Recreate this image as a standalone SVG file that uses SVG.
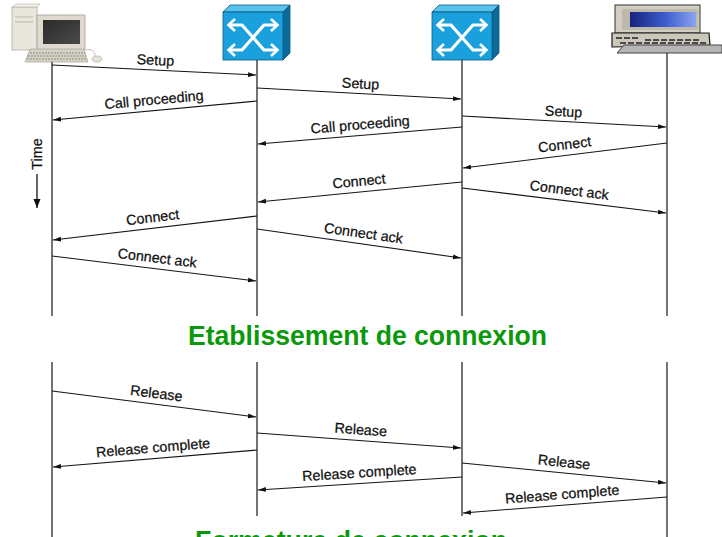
<svg xmlns="http://www.w3.org/2000/svg" xmlns:xlink="http://www.w3.org/1999/xlink" width="722" height="537" viewBox="0 0 722 537">
  <style>
    .life { stroke: #2a2a2a; stroke-width: 1.3; fill: none; }
    .msg { stroke: #151515; stroke-width: 1.1; fill: none; marker-end: url(#head); }
    .lbl { font-family: "Liberation Sans", Arial, sans-serif; font-size: 14.3px; fill: #111; stroke: #111; stroke-width: 0.25; text-anchor: middle; }
    .title { font-family: "Liberation Sans", Arial, sans-serif; font-size: 27px; font-weight: bold; fill: #0b990b; }
  </style>
  <defs>
    <marker id="head" markerWidth="9" markerHeight="6" refX="8" refY="3" orient="auto" markerUnits="userSpaceOnUse">
      <path d="M0,0.6 L8,3 L0,5.4 Z" fill="#111"/>
    </marker>
    <marker id="timehead" markerWidth="8" markerHeight="10" refX="4" refY="9" orient="0" markerUnits="userSpaceOnUse">
      <path d="M0.5,0 L4,9 L7.5,0 Z" fill="#111"/>
    </marker>
    <linearGradient id="lcd" x1="0" y1="0" x2="1" y2="0">
      <stop offset="0" stop-color="#16237e"/>
      <stop offset="0.55" stop-color="#3e5fd0"/>
      <stop offset="1" stop-color="#8aa4f0"/>
    </linearGradient>
    <linearGradient id="crt" x1="0" y1="0" x2="1" y2="1">
      <stop offset="0" stop-color="#2b2b2b"/>
      <stop offset="1" stop-color="#4a4a4a"/>
    </linearGradient>
    <!-- ATM switch cube with crossing arrows -->
    <g id="atm-switch">
      <polygon points="0,7 7,0 67,0 60,7" fill="#57c2ec" stroke="#0a5a80" stroke-width="0.8"/>
      <polygon points="60,7 67,0 67,48 60,55" fill="#0a6b9a" stroke="#0a5a80" stroke-width="0.8"/>
      <rect x="0" y="7" width="60" height="48" fill="#1aa0dc" stroke="#0a5a80" stroke-width="0.8"/>
      <path d="M6,20 H19 L41,45 H54 M54,20 H41 L19,45 H6" fill="none" stroke="#ffffff" stroke-width="3.2" stroke-linejoin="round"/>
      <path d="M12,14 L5.5,20 L12,26 M48,14 L54.5,20 L48,26 M12,39 L5.5,45 L12,51 M48,39 L54.5,45 L48,51" fill="none" stroke="#ffffff" stroke-width="2.6" stroke-linejoin="miter"/>
    </g>
  </defs>

  <rect x="0" y="0" width="722" height="537" fill="#ffffff"/>

  <!-- Calling workstation -->
  <g id="pc">
    <rect x="12" y="7" width="25" height="43" fill="#e9e7dd" stroke="#b3afa2" stroke-width="0.8"/>
    <polygon points="12,7 16,4 40,4 37,7" fill="#f3f1ea" stroke="#b3afa2" stroke-width="0.6"/>
    <line x1="15" y1="17" x2="33" y2="17" stroke="#b8b4a6" stroke-width="1"/>
    <line x1="15" y1="22" x2="33" y2="22" stroke="#b8b4a6" stroke-width="1"/>
    <rect x="37" y="15" width="48" height="35" fill="#dedad0" stroke="#a5a194" stroke-width="0.8"/>
    <rect x="43" y="20" width="37" height="24" fill="url(#crt)"/>
    <polygon points="30,49 84,49 88,62 25,62" fill="#d6d2c6" stroke="#a8a498" stroke-width="0.7"/>
    <path d="M30,53 H85 M28,56 H86 M27,59 H87" stroke="#8e8a80" stroke-width="1" stroke-dasharray="2 1"/>
    <path d="M86,50 C92,48 95,52 95,56" fill="none" stroke="#b0aca0" stroke-width="0.8"/>
    <ellipse cx="97" cy="59" rx="5" ry="3" fill="#e6e3da" stroke="#b0aca0" stroke-width="0.7"/>
    <path class="life" d="M52,62 V316 M52,362 V537"/>
  </g>

  <!-- First ATM switch -->
  <g id="switch-a">
    <use xlink:href="#atm-switch" x="223" y="5"/>
    <path class="life" d="M257,60 V316 M257,362 V516"/>
  </g>

  <!-- Second ATM switch -->
  <g id="switch-b">
    <use xlink:href="#atm-switch" x="432" y="5"/>
    <path class="life" d="M462,60 V316 M462,362 V516"/>
  </g>

  <!-- Called laptop -->
  <g id="laptop">
    <rect x="615" y="5" width="85" height="28" fill="#d2cec2" stroke="#333" stroke-width="1"/>
    <rect x="622" y="9" width="76" height="21" fill="#bdb9ad"/>
    <rect x="630" y="12" width="66" height="15" fill="url(#lcd)"/>
    <polygon points="612,33 709,33 710,45 612,47" fill="#cbc7bb" stroke="#1a1a1a" stroke-width="1.2"/>
    <path d="M616,38 H640 M645,40 H700 M620,43 H706" stroke="#222" stroke-width="1.6" stroke-dasharray="6 2"/>
    <polygon points="624,45 722,45 722,53 617,53" fill="#b5b5b5" stroke="#444" stroke-width="1"/>
    <path class="life" d="M667,53 V316 M667,362 V537"/>
  </g>

  <!-- Time axis -->
  <g id="time-axis">
    <text class="lbl" transform="translate(42,154) rotate(-90)">Time</text>
    <line x1="37" y1="174" x2="37" y2="208" stroke="#111" stroke-width="1.3" marker-end="url(#timehead)"/>
  </g>

  <!-- Signalling messages -->
  <g id="messages">
    <line class="msg" x1="52" y1="65" x2="256" y2="75"/>
    <line class="msg" x1="257" y1="88" x2="461" y2="99"/>
    <line class="msg" x1="462" y1="116" x2="666" y2="127"/>
    <line class="msg" x1="257" y1="101" x2="53" y2="120"/>
    <line class="msg" x1="462" y1="127" x2="258" y2="144"/>
    <line class="msg" x1="667" y1="143" x2="463" y2="168"/>
    <line class="msg" x1="462" y1="182" x2="258" y2="202"/>
    <line class="msg" x1="462" y1="188" x2="666" y2="213"/>
    <line class="msg" x1="257" y1="216" x2="53" y2="240"/>
    <line class="msg" x1="257" y1="229" x2="461" y2="258"/>
    <line class="msg" x1="52" y1="256" x2="256" y2="281"/>

    <line class="msg" x1="52" y1="391" x2="256" y2="417"/>
    <line class="msg" x1="257" y1="450" x2="53" y2="467"/>
    <line class="msg" x1="257" y1="433" x2="461" y2="448"/>
    <line class="msg" x1="462" y1="477" x2="258" y2="490"/>
    <line class="msg" x1="462" y1="463" x2="666" y2="483"/>
    <line class="msg" x1="667" y1="497" x2="463" y2="513"/>

    <text class="lbl" transform="translate(155,70) rotate(2.8)" y="-5">Setup</text>
    <text class="lbl" transform="translate(360,93.5) rotate(3.1)" y="-5">Setup</text>
    <text class="lbl" transform="translate(563,121.4) rotate(3.1)" y="-5">Setup</text>
    <text class="lbl" transform="translate(155,110.5) rotate(-5.3)" y="-6">Call proceeding</text>
    <text class="lbl" transform="translate(361,135.4) rotate(-4.7)" y="-6">Call proceeding</text>
    <text class="lbl" transform="translate(566,155.3) rotate(-7)" y="-6">Connect</text>
    <text class="lbl" transform="translate(360,191.9) rotate(-5.6)" y="-6">Connect</text>
    <text class="lbl" transform="translate(568,200.9) rotate(7)" y="-6">Connect ack</text>
    <text class="lbl" transform="translate(154,228.1) rotate(-6.7)" y="-6">Connect</text>
    <text class="lbl" transform="translate(362,243.9) rotate(8)" y="-6">Connect ack</text>
    <text class="lbl" transform="translate(156,268.7) rotate(7)" y="-6">Connect ack</text>

    <text class="lbl" transform="translate(155,404.1) rotate(7.2)" y="-6">Release</text>
    <text class="lbl" transform="translate(154,458.5) rotate(-4.7)" y="-6">Release complete</text>
    <text class="lbl" transform="translate(360,440.5) rotate(4.2)" y="-6">Release</text>
    <text class="lbl" transform="translate(360,483.5) rotate(-3.6)" y="-6">Release complete</text>
    <text class="lbl" transform="translate(563,472.9) rotate(5.6)" y="-6">Release</text>
    <text class="lbl" transform="translate(563,505.1) rotate(-4.5)" y="-6">Release complete</text>
  </g>

  <!-- Section captions (the closing caption runs off the bottom edge) -->
  <text class="title" x="188" y="345" textLength="359" lengthAdjust="spacingAndGlyphs">Etablissement de connexion</text>
  <text class="title" x="195" y="550" textLength="312" lengthAdjust="spacingAndGlyphs">Formeture de connexion</text>
</svg>
